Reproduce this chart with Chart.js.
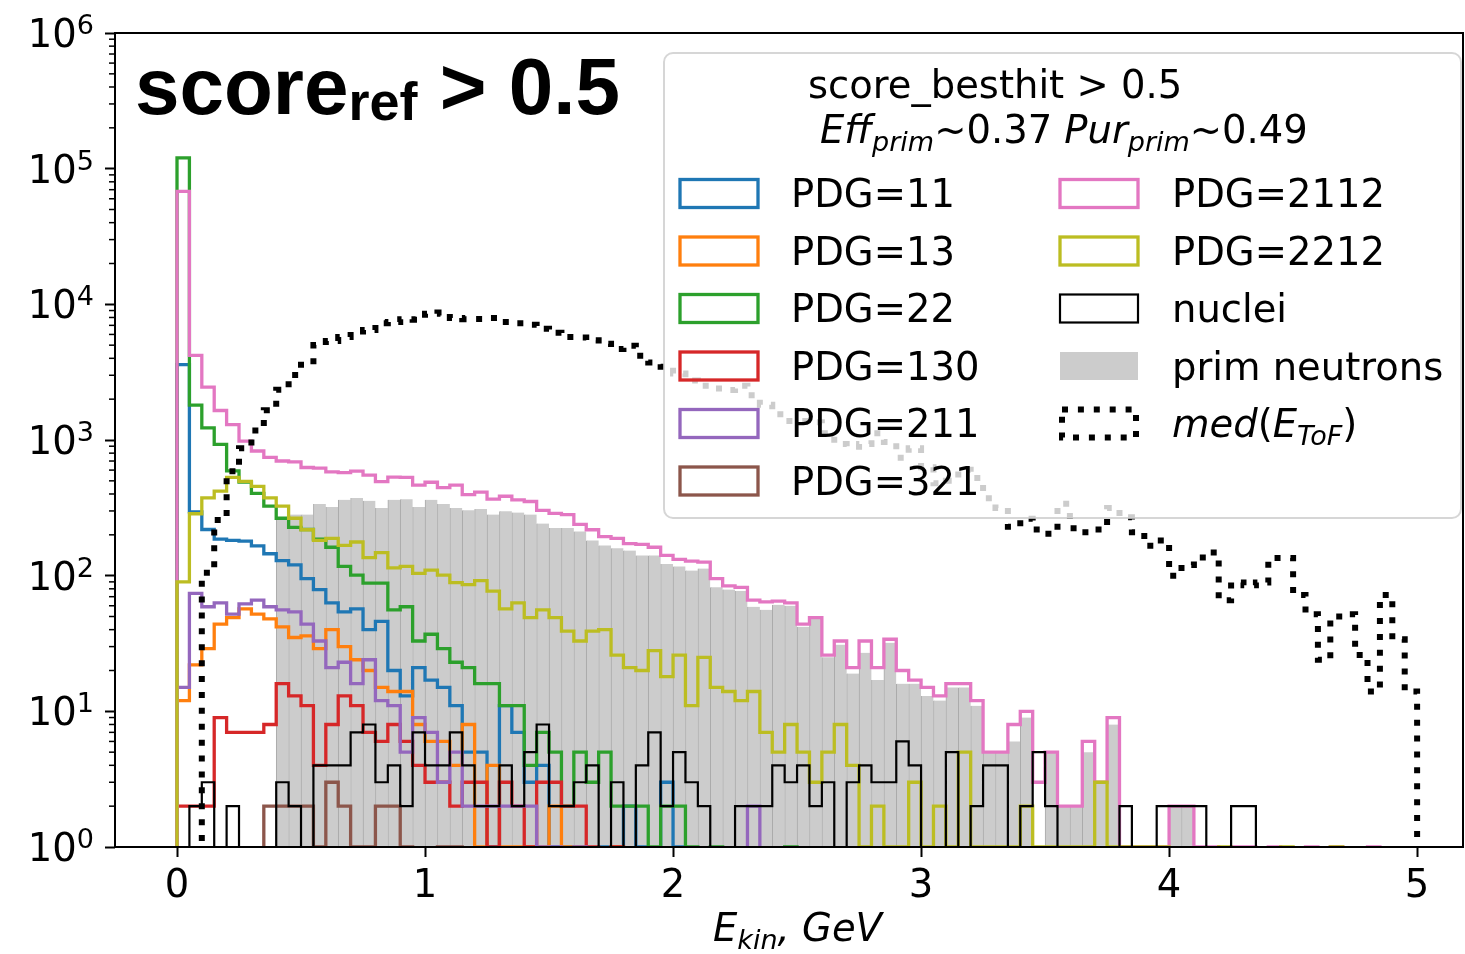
<!DOCTYPE html>
<html><head><meta charset="utf-8">
<script src="https://cdn.jsdelivr.net/npm/chart.js@4.4.1/dist/chart.umd.min.js"></script>
<style>html,body{margin:0;padding:0;background:#fff;}canvas{display:block;}</style>
</head><body>
<canvas id="c" width="1465" height="954"></canvas>
<script>
// ---------------- data ----------------
const ekinEdges = [0,0.05,0.1,0.15,0.2,0.25,0.3,0.35,0.4,0.45,0.5,0.55,0.6,0.65,0.7,0.75,0.8,0.85,0.9,0.95,
1,1.05,1.1,1.15,1.2,1.25,1.3,1.35,1.4,1.45,1.5,1.55,1.6,1.65,1.7,1.75,1.8,1.85,1.9,1.95,
2,2.05,2.1,2.15,2.2,2.25,2.3,2.35,2.4,2.45,2.5,2.55,2.6,2.65,2.7,2.75,2.8,2.85,2.9,2.95,
3,3.05,3.1,3.15,3.2,3.25,3.3,3.35,3.4,3.45,3.5,3.55,3.6,3.65,3.7,3.75,3.8,3.85,3.9,3.95,
4,4.05,4.1,4.15,4.2,4.25,4.3,4.35,4.4,4.45,4.5,4.55,4.6,4.65,4.7,4.75,4.8,4.85,4.9,4.95,5];

const pdg11 = [3600,295,219,186,182,180,166,145,129,120, 95,79,63,54,57,40,46,20,13,21,
17,15,11,5,5,1,11,7,3,4, 1,1,1,0,1,1,2,1,0,3, 1,0,0,0,0,0,0,0,0,0,
0,0,0,0,0,0,0,0,0,0, 0,0,0,0,0,0,0,0,0,0, 0,0,0,0,0,0,0,0,0,0, 0,0,0,0,0,0,0,0,0,0, 0,0,0,0,0,0,0,0,0,0];
const pdg13 = [12,22,29,44,49,57,52,48,42,35, 36,29,40,30,24,20,15,14,14,8,
6,6,4,8,1,4,1,1,1,1, 2,1,1,0,0,1,0,0,0,0, 0,0,0,0,0,0,0,0,0,0,
0,0,0,0,0,0,0,0,0,0, 0,0,0,0,0,0,0,0,0,0, 0,0,0,0,0,0,0,0,0,0, 0,0,0,0,0,0,0,0,0,0, 0,0,0,0,0,0,0,0,0,0];
const pdg22 = [120000,1810,1230,927,593,490,404,326,265,227, 219,186,162,117,101,88,88,56,59,33,
37,29,23,21,16,16,11,11,4,7, 5,2,5,3,5,2,2,2,1,2, 2,1,0,1,0,0,0,0,0,1,
0,0,0,0,0,0,0,0,0,0, 0,0,0,0,0,0,0,0,0,0, 0,0,0,0,0,0,0,0,0,0, 0,0,0,0,0,0,0,0,0,0, 0,0,0,0,0,0,0,0,0,0];
const pdg130 = [2,2,2,9,7,7,7,8,16,13, 11,4,8,13,11,7,6,8,6,4,
3,3,2,3,3,1,3,2,1,3, 3,2,2,1,0,1,0,0,0,0, 0,0,0,0,0,0,0,0,0,0,
0,0,0,0,0,0,0,0,0,0, 0,0,0,0,0,0,0,0,0,0, 0,0,0,0,0,0,0,0,0,0, 0,0,0,0,0,0,0,0,0,0, 0,0,0,0,0,0,0,0,0,0];
const pdg211 = [15,74,59,63,52,62,66,59,56,54, 44,33,21,23,16,24,12,11,5,9,
7,3,5,2,2,2,2,2,2,1, 1,0,1,0,0,0,0,0,0,0, 0,0,0,0,0,0,2,0,0,0,
0,0,0,0,0,0,0,0,0,0, 0,0,0,0,0,0,0,0,0,0, 0,0,0,0,0,0,0,0,0,0, 0,0,0,0,0,0,0,0,0,0, 0,0,0,0,0,0,0,0,0,0];
const pdg321 = [0,0,0,0,0,0,0,2,2,2, 2,1,3,2,1,1,2,2,1,0,
0,1,1,0,0,0,0,0,0,0, 0,0,0,0,0,0,0,0,0,0, 0,0,0,0,0,0,0,0,0,0,
0,0,0,0,0,0,0,0,0,0, 0,0,0,0,0,0,0,0,0,0, 0,0,0,0,0,0,0,0,0,0, 0,0,0,0,0,0,0,0,0,0, 0,0,0,0,0,0,0,0,0,0];
const pdg2112 = [68000,4200,2450,1650,1300,980,830,745,700,690, 627,620,582,575,589,550,493,533,530,465,
488,446,465,396,413,366,385,362,352,303, 288,282,239,218,194,188,172,170,162,141,
132,128,126,95,84,82,66,64,65,63, 44,49,26,33,21,33,21,34,20,17,
15,13,16,16,12,5,5,8,10,3, 5,2,2,6,3,9,1,1,1,1, 2,2,1,1,0,1,1,0,1,0, 0,1,0,1,0,0,1,0,0,0];
const pdg2212 = [90,286,374,420,530,495,455,374,326,265, 218,182,188,167,177,136,148,114,117,104,
110,101,89,86,92,77,57,63,49,56, 49,39,33,39,40,26,21,20,28,18,
26,11,25,15,14,12,14,7,5,8, 5,3,5,8,4,1,2,1,1,3,
1,2,1,5,1,1,1,1,2,1, 1,1,1,1,3,1,1,1,1,1, 0,0,0,0,1,0,0,0,0,1, 0,0,0,1,0,0,0,0,0,0];
const nuclei = [0,2,3,1,2,1,1,1,3,2, 1,4,4,4,7,8,3,4,2,7,
4,4,7,4,2,2,4,2,5,8, 2,2,3,4,1,3,1,4,7,2, 5,3,2,1,1,2,2,2,4,3,
4,2,3,1,3,4,3,3,6,4, 1,1,5,1,2,4,4,1,2,5, 2,1,1,1,1,1,2,1,1,2, 2,2,2,1,1,2,2,0,0,0, 0,0,0,0,0,0,0,0,0,0];
const primNeutrons = [0,0,0,0,0,0,0,0,257,282, 282,337,321,362,373,356,316,362,366,321,
362,337,316,303,310,282,299,292,282,242, 225,225,212,182,167,159,153,141,141,122,
117,109,113,82,79,77,59,56,61,60, 42,48,25,31,19,27,17,32,16,16,
13,12,15,15,11,5,5,6,9,1, 5,2,2,5,3,8,0,0,0,0, 2,2,0,0,0,0,0,0,0,0, 0,0,0,0,0,0,0,0,0,0];
const medEtof = [0,0,105,257,589,871,1175,1660,2344,3020, 3800,5010,5370,5750,6310,6460,7240,7410,7760,7700,
8510,8710,7940,7760,7800,7940,7410,7240,7080,6610, 6170,5750,5700,5430,5130,4680,4950,4170,3720,3470,
3090,2750,2510,2400,2340,2510,2140,1820,1550,1380, 1380,1350,1120,933,891,933,1120,966,741,871,
631,479,501,603,525,372,316,229,263,219, 204,339,224,209,219,316,269,209,166,182,
100,120,136,148,66,89,85,89,135,135, 72,52,24,50,52,26,14,72,34,14];

const xTicks = [0,1,2,3,4,5];
const xTickLabels = ['0','1','2','3','4','5'];
const yTicks = [1,10,100,1000,10000,100000,1000000];
const yTickBase = '10';
const yTickExponents = ['0','1','2','3','4','5','6'];
const seriesLabels = ['PDG=11','PDG=13','PDG=22','PDG=130','PDG=211','PDG=321','PDG=2112','PDG=2212','nuclei','prim neutrons'];
const legendTitle1 = 'score_besthit > 0.5';
const plotTitle = ['score','ref',' > 0.5'];

// ---------------- helpers ----------------
const FLOOR = 0.01; // below axis minimum (empty bins)
function stepPoints(counts){
  const pts=[{x:ekinEdges[0],y:FLOOR}];
  for(let i=0;i<counts.length;i++) pts.push({x:ekinEdges[i], y: counts[i]>0?counts[i]:FLOOR});
  pts.push({x:ekinEdges[counts.length], y:FLOOR});
  return pts;
}
function barPoints(counts){
  return counts.map((c,i)=>({x:(ekinEdges[i]+ekinEdges[i+1])/2, y: c>0?c:null}));
}
const colors = ['#1f77b4','#ff7f0e','#2ca02c','#d62728','#9467bd','#8c564b','#e377c2','#bcbd22','#000000'];
const histSeries = [pdg11,pdg13,pdg22,pdg130,pdg211,pdg321,pdg2112,pdg2212,nuclei];

const datasets = [];
histSeries.forEach((s,i)=>{
  datasets.push({type:'line', label:seriesLabels[i], data:stepPoints(s), borderColor:colors[i],
    borderWidth: i===8?2.2:3.3, pointRadius:0, stepped:'before', tension:0, fill:false,
    borderJoinStyle:'miter', order:100-i});
});
datasets.push({type:'bar', label:seriesLabels[9], data:barPoints(primNeutrons), backgroundColor:'#cccccc',
  borderColor:'#a9a9a9', borderWidth:{left:1,right:0,top:0,bottom:0}, borderSkipped:false,
  barPercentage:1, categoryPercentage:1, order:300});
datasets.push({type:'line', label:'med', data:stepPoints(medEtof), borderColor:'#000', borderWidth:6,
  borderDash:[6,9.9], pointRadius:0, stepped:'before', tension:0, fill:false, order:10});

const FONT = '"DejaVu Sans"';
function runs(ctx,x,y,list){
  for(const r of list){
    ctx.font = (r.it?'italic ':'')+(r.bold?'bold ':'')+r.size+'px '+(r.fam||FONT);
    ctx.fillText(r.t, x, y+(r.dy||0));
    x += ctx.measureText(r.t).width;
  }
  return x;
}

const decorPlugin = {
  id:'decor',
  afterDatasetsDraw(chart){
    const ctx=chart.ctx, a=chart.chartArea, ys=chart.scales.y;
    ctx.save();
    // frame
    ctx.strokeStyle='#000'; ctx.lineWidth=2;
    ctx.strokeRect(a.left, a.top, a.right-a.left, a.bottom-a.top);
    // minor ticks on log axis
    ctx.lineWidth=1.5;
    for(let k=0;k<6;k++){ for(let m=2;m<10;m++){
      const py=ys.getPixelForValue(m*Math.pow(10,k));
      ctx.beginPath(); ctx.moveTo(a.left-6,py); ctx.lineTo(a.left,py); ctx.stroke();
    }}
    // legend box
    const bx=a.right-799, by=a.top+20, bw=797, bh=465, r=9;
    ctx.beginPath();
    ctx.moveTo(bx+r,by); ctx.lineTo(bx+bw-r,by); ctx.arcTo(bx+bw,by,bx+bw,by+r,r);
    ctx.lineTo(bx+bw,by+bh-r); ctx.arcTo(bx+bw,by+bh,bx+bw-r,by+bh,r);
    ctx.lineTo(bx+r,by+bh); ctx.arcTo(bx,by+bh,bx,by+bh-r,r);
    ctx.lineTo(bx,by+r); ctx.arcTo(bx,by,bx+r,by,r); ctx.closePath();
    ctx.fillStyle='rgba(255,255,255,0.8)'; ctx.fill();
    ctx.strokeStyle='rgba(204,204,204,0.8)'; ctx.lineWidth=2; ctx.stroke();
    ctx.fillStyle='#000'; ctx.textBaseline='alphabetic'; ctx.textAlign='left';
    const S=38.5, SS=27;
    runs(ctx, bx+144, by+45, [{t:legendTitle1,size:S}]);
    runs(ctx, bx+156, by+90, [
      {t:'Eff',it:1,size:S},{t:'prim',it:1,size:SS,dy:7.5},{t:'~0.37 ',size:S},
      {t:'Pur',it:1,size:S},{t:'prim',it:1,size:SS,dy:7.5},{t:'~0.49',size:S}]);
    const rowY=[193.5,251,308.5,366,423.5,481];
    const c1h=bx+16, c2h=bx+396, hw=78, hh=28, c1t=bx+127, c2t=bx+508;
    for(let i=0;i<6;i++){
      ctx.strokeStyle=colors[i]; ctx.lineWidth=3.3; ctx.setLineDash([]);
      ctx.strokeRect(c1h, rowY[i]-hh/2, hw, hh);
      ctx.fillStyle='#000'; runs(ctx, c1t, rowY[i]+13.5, [{t:seriesLabels[i],size:S}]);
    }
    for(let j=0;j<3;j++){
      ctx.strokeStyle=colors[6+j]; ctx.lineWidth=j===2?2.2:3.3;
      ctx.strokeRect(c2h, rowY[j]-hh/2, hw, hh);
      ctx.fillStyle='#000'; runs(ctx, c2t, rowY[j]+13.5, [{t:seriesLabels[6+j],size:S}]);
    }
    ctx.fillStyle='#cccccc'; ctx.fillRect(c2h, rowY[3]-hh/2, hw, hh);
    ctx.fillStyle='#000'; runs(ctx, c2t, rowY[3]+13.5, [{t:seriesLabels[9],size:S}]);
    ctx.strokeStyle='#000'; ctx.lineWidth=6; ctx.setLineDash([6,9.9]);
    ctx.strokeRect(c2h+2, rowY[4]-hh/2, hw-4, hh);
    ctx.setLineDash([]);
    runs(ctx, c2t, rowY[4]+13.5, [{t:'med',it:1,size:S},{t:'(',size:S},{t:'E',it:1,size:S},
      {t:'ToF',it:1,size:SS,dy:7.5},{t:')',size:S}]);
    ctx.restore();
  },
  afterDraw(chart){
    const ctx=chart.ctx, a=chart.chartArea, ys=chart.scales.y;
    ctx.save(); ctx.fillStyle='#000'; ctx.textBaseline='alphabetic'; ctx.textAlign='left';
    // y tick labels 10^k with real superscripts
    yTicks.forEach((v,i)=>{
      const py=ys.getPixelForValue(v);
      ctx.font='27px '+FONT; const we=ctx.measureText(yTickExponents[i]).width;
      ctx.font='38.5px '+FONT; const wb=ctx.measureText(yTickBase).width;
      const xr=94;
      ctx.fillText(yTickBase, xr-we-wb, py+14);
      ctx.font='27px '+FONT; ctx.fillText(yTickExponents[i], xr-we, py+1);
    });
    // x axis title
    runs(ctx, 713, 941, [{t:'E',it:1,size:38.5},{t:'kin',it:1,size:27,dy:7.5},{t:', GeV',it:1,size:38.5}]);
    // plot title
    const F='"Liberation Sans", Arial, sans-serif';
    runs(ctx, a.left+20, 114, [{t:plotTitle[0],bold:1,size:80,fam:F},{t:plotTitle[1],bold:1,size:54,fam:F,dy:6},
      {t:plotTitle[2],bold:1,size:80,fam:F}]);
    ctx.restore();
  }
};

new Chart(document.getElementById('c'), {
  type:'line',
  data:{datasets},
  options:{
    responsive:false, animation:false, devicePixelRatio:1,
    layout:{padding:{top:33,right:2,left:0,bottom:0}},
    plugins:{legend:{display:false}, tooltip:{enabled:false}, title:{display:false}},
    scales:{
      x:{type:'linear', min:-0.25, max:5.185, offset:false,
        afterFit:(s)=>{s.height=107;},
        afterBuildTicks:(s)=>{s.ticks=xTicks.map(v=>({value:v}));},
        ticks:{callback:(v,i)=>xTickLabels[i], font:{family:'DejaVu Sans',size:38.5}, color:'#000', padding:7, maxRotation:0, autoSkip:false},
        grid:{offset:false, drawOnChartArea:false, drawTicks:true, tickLength:10, tickWidth:2, tickColor:'#000'},
        border:{display:false}},
      y:{type:'logarithmic', min:1, max:1000000,
        afterFit:(s)=>{s.width=115;},
        afterBuildTicks:(s)=>{s.ticks=yTicks.map(v=>({value:v, major:true}));},
        ticks:{display:false},
        grid:{offset:false, drawOnChartArea:false, drawTicks:true, tickLength:10, tickWidth:2, tickColor:'#000'},
        border:{display:false}}
    }
  },
  plugins:[decorPlugin]
});
</script>
</body></html>
